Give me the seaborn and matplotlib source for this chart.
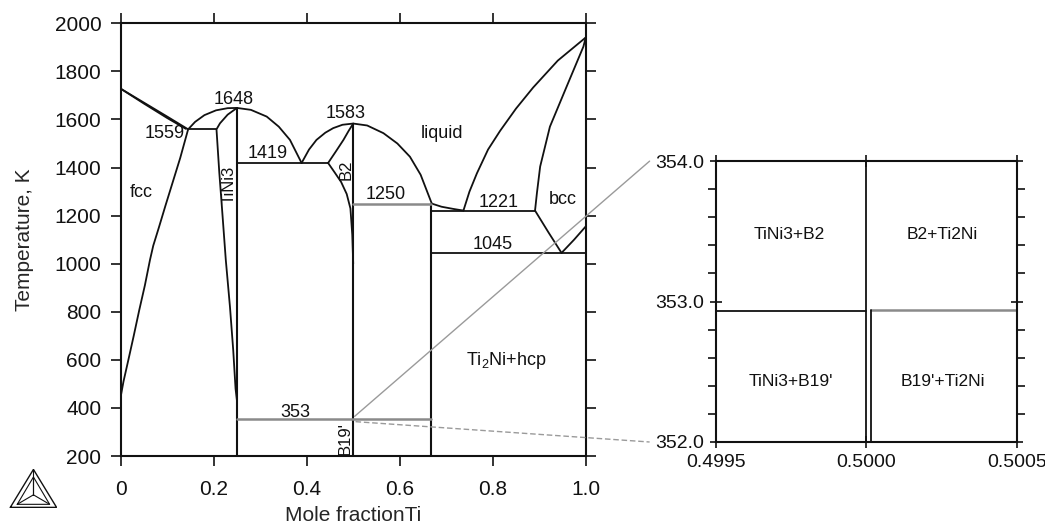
import numpy as np
import matplotlib
matplotlib.use("Agg")
import matplotlib.pyplot as plt
import seaborn as sns
from matplotlib.lines import Line2D

# ---------------------------------
# data
# ---------------------------------

# Ni-rich liquidus / fcc solidus (nearly on top of each other)
ni_liq_x = [0.0, 0.05, 0.10, 0.145]
ni_liq_T = [1728, 1670, 1612, 1559]
ni_sol_x = [0.0, 0.05, 0.10, 0.140]
ni_sol_T = [1728, 1666, 1606, 1561]

# fcc solvus
fcc_x = [0.145, 0.128, 0.112, 0.096, 0.082, 0.070, 0.063, 0.052, 0.040, 0.028, 0.0165, 0.006, 0.0]
fcc_T = [1559, 1440, 1340, 1240, 1150, 1075, 1016, 910, 808, 700, 600, 510, 447]

# TiNi3 liquidus (both sides of the congruent maximum)
tini3_liq_x = [0.145, 0.16, 0.18, 0.205, 0.23, 0.25, 0.28, 0.314, 0.34, 0.364, 0.389]
tini3_liq_T = [1559, 1590, 1618, 1638, 1647, 1648, 1640, 1612, 1570, 1515, 1419]

# TiNi3 left boundary
tini3_left_x = [0.25, 0.23, 0.2135, 0.206, 0.212, 0.2165, 0.219, 0.226, 0.235, 0.242, 0.247, 0.25]
tini3_left_T = [1648, 1620, 1584, 1559, 1380, 1265, 1200, 1016, 820, 640, 480, 430]

# B2 liquidus
b2_liq_x = [0.389, 0.405, 0.421, 0.44, 0.457, 0.477, 0.5, 0.53, 0.565, 0.595, 0.622, 0.645, 0.669]
b2_liq_T = [1419, 1475, 1515, 1545, 1564, 1578, 1583, 1575, 1543, 1500, 1445, 1370, 1250]

# B2 solidus and solvus on the Ni side
b2_sol_x = [0.5, 0.49, 0.479, 0.462, 0.446]
b2_sol_T = [1583, 1552, 1515, 1465, 1419]
b2_solv_x = [0.446, 0.46, 0.474, 0.486, 0.494, 0.498, 0.5]
b2_solv_T = [1419, 1380, 1340, 1290, 1230, 1120, 1000]

# Ti2Ni liquidus
ti2ni_liq_x = [0.669, 0.69, 0.715, 0.737]
ti2ni_liq_T = [1250, 1237, 1228, 1221]

# Ti-rich liquidus / bcc solidus
ti_liq_x = [0.737, 0.75, 0.766, 0.79, 0.816, 0.85, 0.887, 0.94, 1.0]
ti_liq_T = [1221, 1300, 1376, 1475, 1553, 1645, 1733, 1845, 1941]
bcc_sol_x = [0.891, 0.895, 0.902, 0.923, 0.959, 0.995, 1.0]
bcc_sol_T = [1221, 1293, 1404, 1570, 1737, 1903, 1941]

# bcc solvus and bcc/hcp boundary
bcc_solv_x = [0.891, 0.92, 0.948]
bcc_solv_T = [1221, 1130, 1045]
hcp_x = [0.948, 0.975, 1.0]
hcp_T = [1045, 1100, 1155]

# compounds (vertical lines): x, top T
compound_x = [0.25, 0.5, 0.667]
compound_top = [1648, 1583, 1250]

# invariant (horizontal) lines: T, x from, x to, grey?
inv_T = [1559, 1419, 1250, 1221, 1045, 353]
inv_x0 = [0.145, 0.25, 0.5, 0.667, 0.667, 0.25]
inv_x1 = [0.206, 0.446, 0.667, 0.891, 1.0, 0.667]
inv_grey = [False, False, True, False, False, True]

# labels in the main plot
lab_text = ["1559", "1648", "1419", "1583", "liquid", "1250", "1221", "bcc",
            "1045", "fcc", "353", "Ti$_\\mathrm{2}$Ni+hcp"]
lab_x = [0.095, 0.242, 0.316, 0.484, 0.690, 0.570, 0.812, 0.950, 0.801, 0.045, 0.375, 0.830]
lab_T = [1542, 1684, 1457, 1626, 1540, 1286, 1254, 1269, 1078, 1297, 380, 598]
rot_text = ["TiNi3", "B2", "B19'"]
rot_x = [0.234, 0.484, 0.482]
rot_T = [1326, 1390, 272]

# zoomed window around x = 0.5, T = 353
zoom_xlim = [0.4995, 0.5005]
zoom_Tlim = [352.0, 354.0]
zoom_mid_x = 0.5
zoom_b19_x = 0.500014
zoom_left_T = 352.93
zoom_right_T = 352.94
zoom_text = ["TiNi3+B2", "B2+Ti2Ni", "TiNi3+B19'", "B19'+Ti2Ni"]
zoom_tx = [0.499743, 0.500252, 0.499751, 0.500255]
zoom_tT = [353.48, 353.48, 352.43, 352.43]

# connector ends: point in the main plot -> point in the zoom window
conn_main = [(0.503, 365), (0.505, 343)]
conn_zoom = [(0.49928, 354.0), (0.49928, 352.0)]
conn_style = ["-", (0, (4, 2))]

# ---------------------------------
# style
# ---------------------------------

sns.set_style("ticks")
plt.rcParams['font.family'] = ['Liberation Sans', 'DejaVu Sans']
plt.rcParams['mathtext.fontset'] = 'custom'
plt.rcParams['mathtext.rm'] = 'Liberation Sans'

BLACK = "#111111"
GREY = "#8a8a8a"
LW = 1.3


def draw(ax, xs, ts, color=BLACK, lw=LW):
    sns.lineplot(x=xs, y=ts, ax=ax, sort=False, estimator=None,
                 color=color, linewidth=lw)


fig = plt.figure(figsize=(10.45, 5.26), dpi=100)
ax = fig.add_axes([0.1155, 0.133, 0.445, 0.8227])
axz = fig.add_axes([0.685, 0.1597, 0.288, 0.534])

# ---------------------------------
# main diagram
# ---------------------------------

for xs, ts in [(ni_liq_x, ni_liq_T), (ni_sol_x, ni_sol_T), (fcc_x, fcc_T),
               (tini3_liq_x, tini3_liq_T), (tini3_left_x, tini3_left_T),
               (b2_liq_x, b2_liq_T), (b2_sol_x, b2_sol_T), (b2_solv_x, b2_solv_T),
               (ti2ni_liq_x, ti2ni_liq_T), (ti_liq_x, ti_liq_T),
               (bcc_sol_x, bcc_sol_T), (bcc_solv_x, bcc_solv_T), (hcp_x, hcp_T)]:
    draw(ax, xs, ts)

for cx, top in zip(compound_x, compound_top):
    draw(ax, [cx, cx], [top, 200], lw=1.5)

for T, x0, x1, g in zip(inv_T, inv_x0, inv_x1, inv_grey):
    draw(ax, [x0, x1], [T, T], color=GREY if g else BLACK, lw=1.8 if g else LW)

for t, x, T in zip(lab_text, lab_x, lab_T):
    ax.text(x, T, t, fontsize=13, ha="center", va="center", color=BLACK)
for t, x, T in zip(rot_text, rot_x, rot_T):
    ax.text(x, T, t, fontsize=12, ha="center", va="center", rotation=90, color=BLACK)

ax.set_xlim(0, 1)
ax.set_ylim(200, 2000)
ax.set_xticks([0, 0.2, 0.4, 0.6, 0.8, 1.0])
ax.set_xticklabels(["0", "0.2", "0.4", "0.6", "0.8", "1.0"])
ax.set_yticks(np.arange(200, 2001, 200))
ax.tick_params(direction="out", length=7, width=1.2, top=True, right=True,
               labelsize=15, colors=BLACK)
ax.tick_params(axis="x", pad=10)
ax.tick_params(axis="y", pad=7)
for s in ax.spines.values():
    s.set_visible(True)
    s.set_linewidth(1.5)
    s.set_color(BLACK)
ax.set_xlabel("Mole fractionTi", fontsize=15)
ax.set_ylabel("Temperature, K", fontsize=15)
ax.xaxis.set_label_coords(0.5, -0.116)
ax.yaxis.set_label_coords(-0.187, 0.5)

# ---------------------------------
# zoomed window
# ---------------------------------

draw(axz, [zoom_mid_x, zoom_mid_x], zoom_Tlim)
draw(axz, [zoom_xlim[0], zoom_mid_x], [zoom_left_T, zoom_left_T])
draw(axz, [zoom_b19_x, zoom_xlim[1]], [zoom_right_T, zoom_right_T], color=GREY, lw=1.8)
draw(axz, [zoom_b19_x, zoom_b19_x], [zoom_Tlim[0], zoom_right_T])

for t, x, T in zip(zoom_text, zoom_tx, zoom_tT):
    axz.text(x, T, t, fontsize=12.5, ha="center", va="center", color=BLACK)

axz.set_xlim(zoom_xlim)
axz.set_ylim(zoom_Tlim)
axz.set_xticks([0.4995, 0.5, 0.5005])
axz.set_xticklabels(["0.4995", "0.5000", "0.5005"])
axz.set_yticks([352.0, 353.0, 354.0])
axz.set_yticklabels(["352.0", "353.0", "354.0"])
axz.set_yticks(np.arange(352.2, 354.0, 0.2), minor=True)
axz.tick_params(which="major", direction="inout", length=9, width=1.2,
                top=True, right=True, labelsize=14, colors=BLACK, pad=4)
axz.tick_params(which="minor", direction="out", length=6, width=1.2,
                left=True, right=True, colors=BLACK)
for s in axz.spines.values():
    s.set_visible(True)
    s.set_linewidth(1.5)
    s.set_color(BLACK)
axz.set_xlabel("")
axz.set_ylabel("")

# lines connecting the 353 K region to the zoomed window (figure coords)
to_fig = fig.transFigure.inverted()
for pm, pz, ls in zip(conn_main, conn_zoom, conn_style):
    a = to_fig.transform(ax.transData.transform(pm))
    b = to_fig.transform(axz.transData.transform(pz))
    fig.add_artist(Line2D([a[0], b[0]], [a[1], b[1]], transform=fig.transFigure,
                          color="#9a9a9a", lw=1.0, linestyle=ls, zorder=5))

# Thermo-Calc logo
axl = fig.add_axes([0.009, 0.034, 0.046, 0.075])
axl.set_axis_off()
outer = np.array([[0, 0], [1, 0], [0.5, 1], [0, 0]])
inner = np.array([[0.15, 0.08], [0.85, 0.08], [0.5, 0.8], [0.15, 0.08]])
axl.plot(outer[:, 0], outer[:, 1], color=BLACK, lw=1.0)
axl.plot(inner[:, 0], inner[:, 1], color=BLACK, lw=0.8)
for vx, vy in inner[:3]:
    axl.plot([vx, 0.5], [vy, 0.33], color=BLACK, lw=0.8)
axl.plot([0.5, 0.5], [1.0, 0.33], color=BLACK, lw=0.8)
axl.set_xlim(-0.02, 1.02)
axl.set_ylim(-0.02, 1.02)

fig.savefig("out.png", dpi=100)
